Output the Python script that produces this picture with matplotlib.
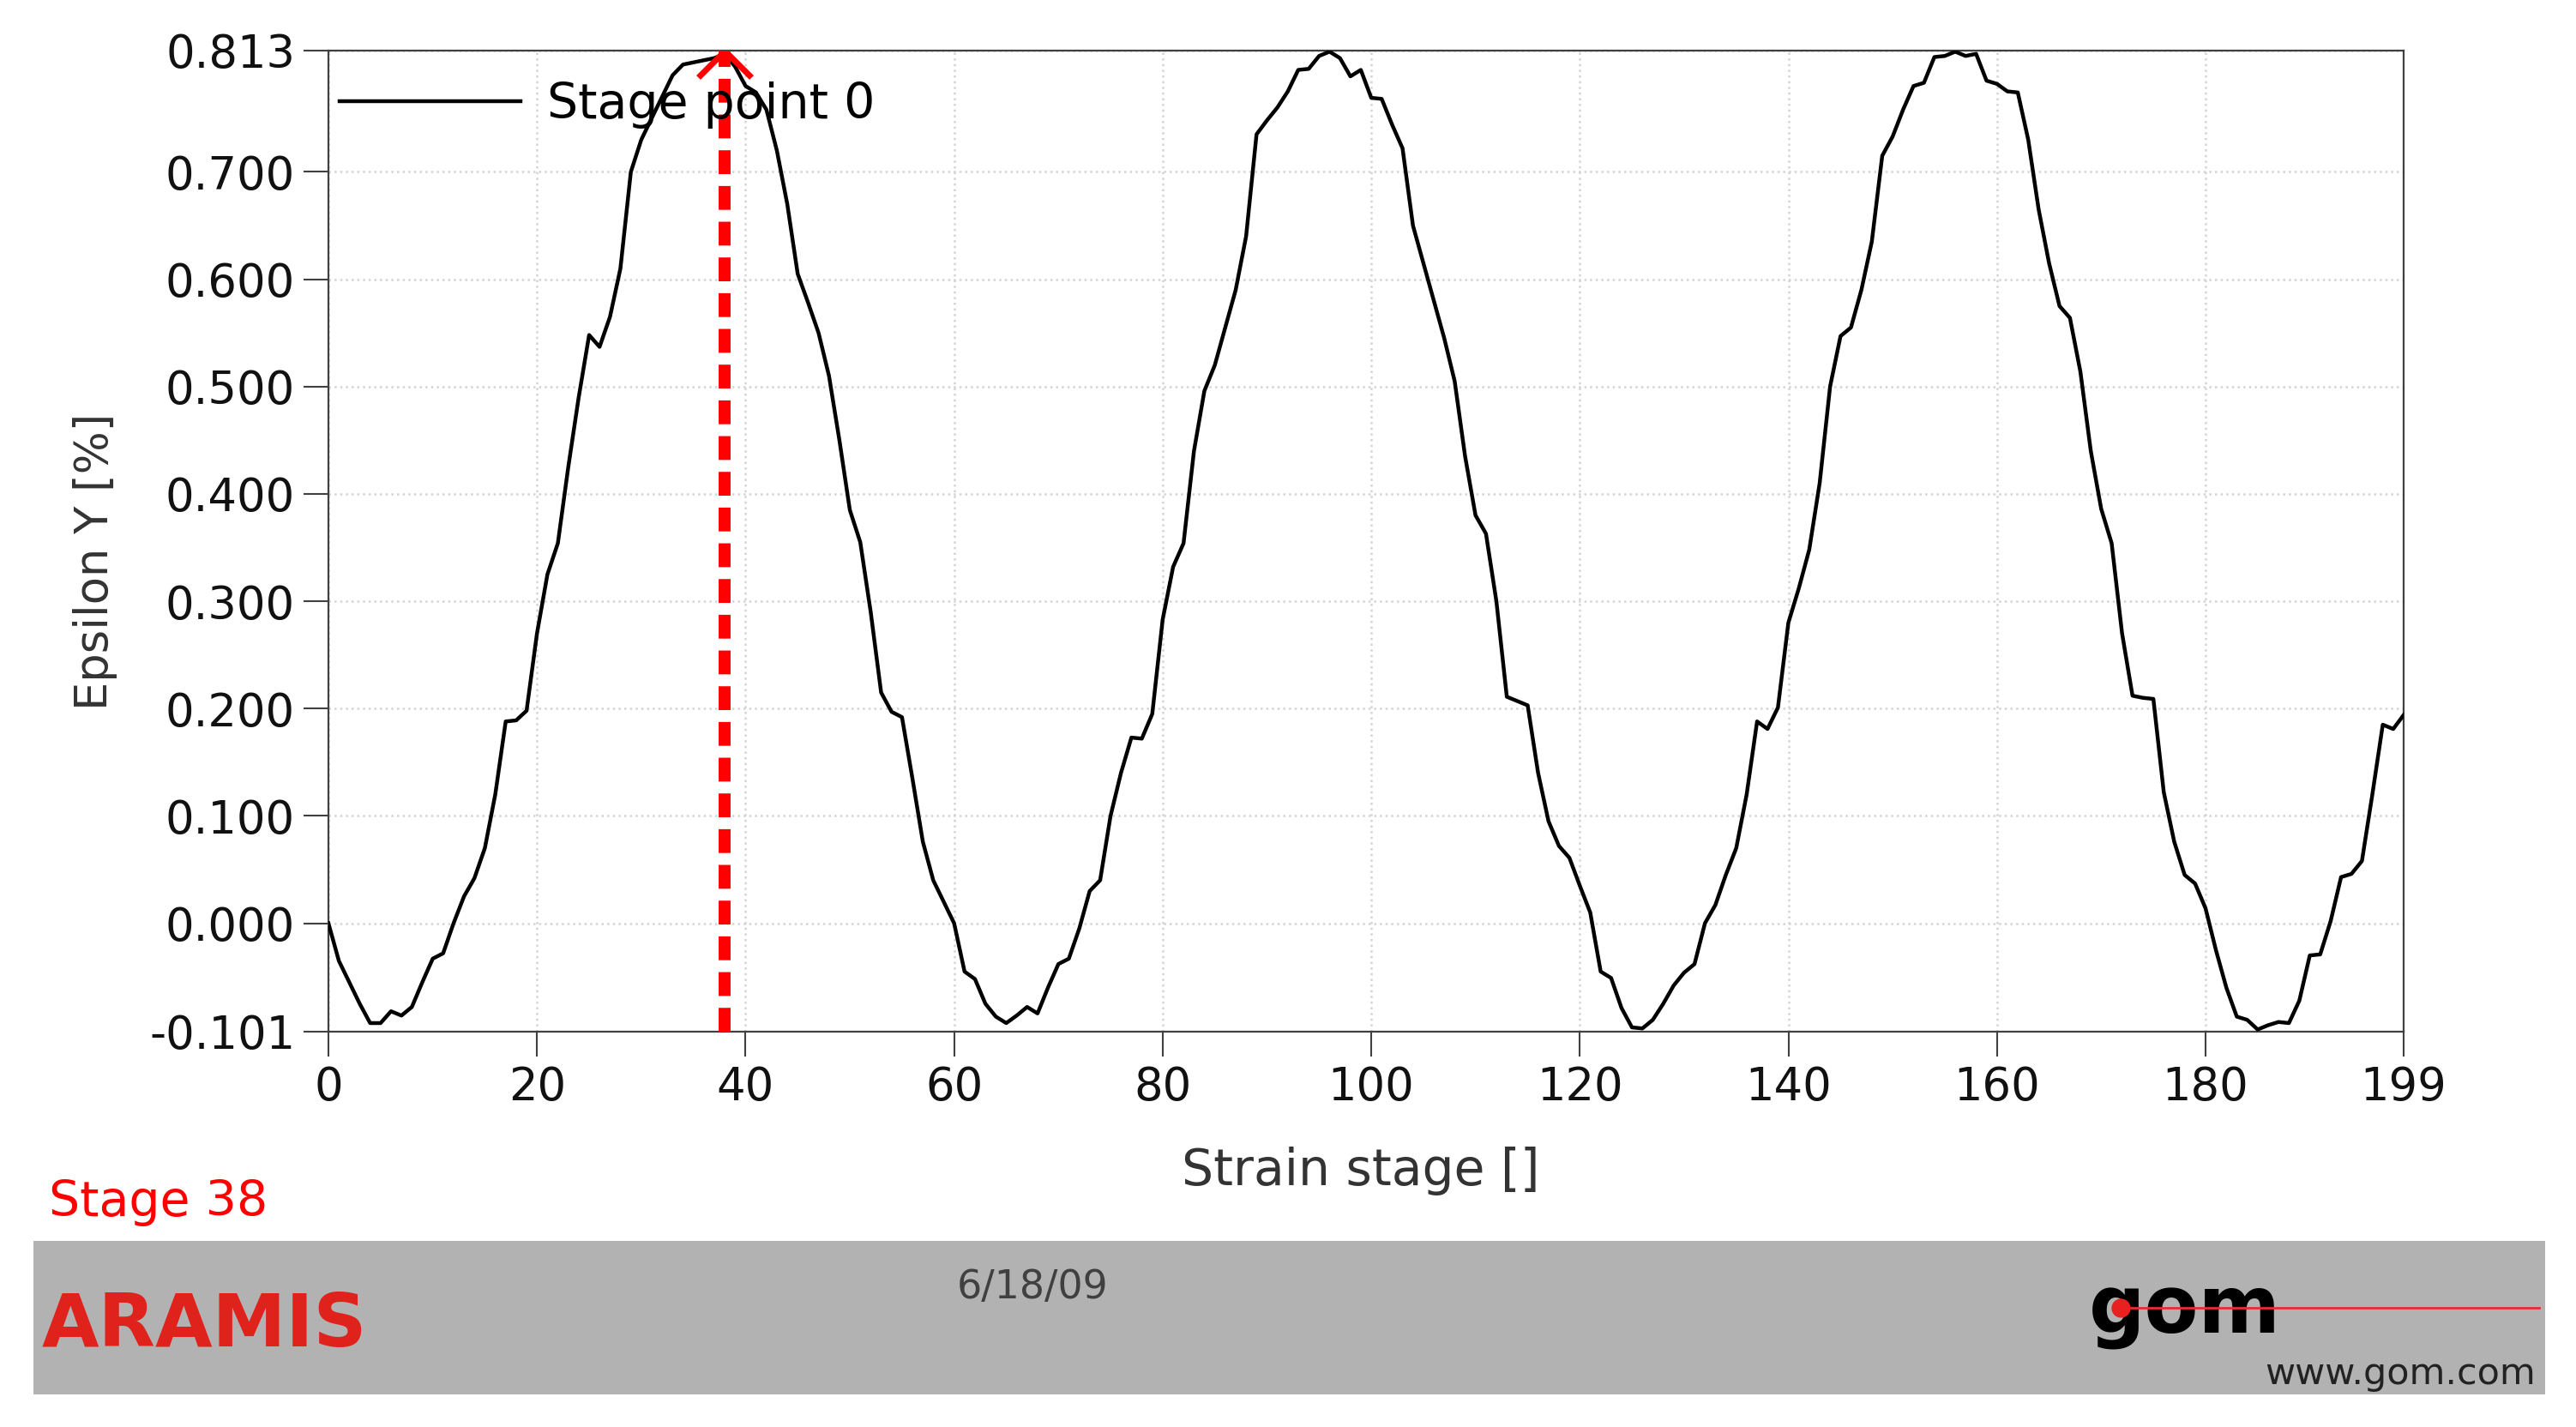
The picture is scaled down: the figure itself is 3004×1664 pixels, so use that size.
import numpy as np
import matplotlib
matplotlib.use('Agg')
import matplotlib.pyplot as plt
from matplotlib.patches import Rectangle
from matplotlib.lines import Line2D

# Epsilon Y [%] per strain stage
stages = np.arange(200)
epsilon_y = [
    0.000, -0.035, -0.055, -0.075, -0.093, -0.093, -0.082, -0.086, -0.078, -0.055,
    -0.033, -0.028, 0.000, 0.025, 0.042, 0.070, 0.120, 0.188, 0.189, 0.198,
    0.270, 0.325, 0.354, 0.425, 0.490, 0.548, 0.537, 0.565, 0.610, 0.700,
    0.730, 0.750, 0.770, 0.790, 0.800, 0.802, 0.804, 0.806, 0.810, 0.798,
    0.780, 0.774, 0.758, 0.720, 0.670, 0.605, 0.578, 0.550, 0.510, 0.450,
    0.385, 0.355, 0.290, 0.215, 0.197, 0.192, 0.135, 0.076, 0.040, 0.020,
    0.000, -0.045, -0.052, -0.075, -0.087, -0.093, -0.086, -0.078, -0.084, -0.060,
    -0.038, -0.033, -0.005, 0.030, 0.040, 0.100, 0.140, 0.173, 0.172, 0.195,
    0.283, 0.332, 0.354, 0.440, 0.496, 0.520, 0.555, 0.590, 0.640, 0.735,
    0.748, 0.760, 0.775, 0.795, 0.796, 0.808, 0.812, 0.806, 0.789, 0.795,
    0.769, 0.768, 0.744, 0.722, 0.650, 0.615, 0.580, 0.545, 0.505, 0.435,
    0.380, 0.363, 0.300, 0.211, 0.207, 0.203, 0.140, 0.095, 0.072, 0.061,
    0.035, 0.010, -0.045, -0.051, -0.079, -0.097, -0.098, -0.090, -0.075, -0.058,
    -0.046, -0.038, 0.000, 0.017, 0.045, 0.070, 0.120, 0.188, 0.181, 0.201,
    0.280, 0.312, 0.348, 0.410, 0.500, 0.547, 0.555, 0.590, 0.635, 0.715,
    0.733, 0.758, 0.780, 0.783, 0.807, 0.808, 0.812, 0.808, 0.810, 0.785,
    0.782, 0.775, 0.774, 0.730, 0.665, 0.615, 0.575, 0.564, 0.514, 0.440,
    0.386, 0.354, 0.270, 0.212, 0.210, 0.209, 0.122, 0.076, 0.045, 0.037,
    0.014, -0.025, -0.060, -0.087, -0.090, -0.099, -0.095, -0.092, -0.093, -0.072,
    -0.030, -0.029, 0.002, 0.043, 0.046, 0.058, 0.120, 0.185, 0.181, 0.194,
]

y_min, y_max = -0.101, 0.813
y_ticks = [-0.101, 0.0, 0.1, 0.2, 0.3, 0.4, 0.5, 0.6, 0.7, 0.813]
x_ticks = [0, 20, 40, 60, 80, 100, 120, 140, 160, 180, 199]
current_stage = 38

W, H = 3004, 1664


def fx(px):
    return px / W


def fy(py):
    return 1 - py / H


fig = plt.figure(figsize=(W / 100, H / 100), dpi=100)
ax = fig.add_axes([fx(383), fy(1203), fx(2803) - fx(383), fy(59) - fy(1203)])

ax.plot(stages, epsilon_y, color='black', lw=3.2, label='Stage point 0', zorder=3)

# current stage marker
ax.axvline(current_stage, color='red', lw=10, linestyle=(0, (2, 1)), zorder=4)
ax.plot(current_stage, y_max, marker='x', ms=44, mew=5, color='red', zorder=5, clip_on=True)

ax.set_xlim(0, 199)
ax.set_ylim(y_min, y_max)
ax.set_xticks(x_ticks)
ax.set_yticks(y_ticks)
ax.set_yticklabels(['%.3f' % v for v in y_ticks])
ax.tick_params(direction='out', length=21, width=1.5, pad=7, labelsize=38,
               colors='#404040', labelcolor='#111111')
ax.grid(True, color='#d4d4d4', linestyle=':', lw=1.8)
for sp in ax.spines.values():
    sp.set_color('#404040')
    sp.set_linewidth(1.6)

ax.set_ylabel('Epsilon Y [%]', fontsize=38, color='#333333', va='center')
ax.yaxis.set_label_coords((111 - 383) / 2420, (1203 - 655) / 1144)
ax.set_xlabel('Strain stage []', fontsize=42, color='#333333', va='center')
ax.xaxis.set_label_coords((1587 - 383) / 2420, (1203 - 1366) / 1144)

ax.legend(loc='center left', bbox_to_anchor=(fx(396), fy(122)), bbox_transform=fig.transFigure,
          frameon=False, fontsize=41, handlelength=3.7, handletextpad=0.55, borderpad=0,
          borderaxespad=0)

fig.text(fx(57), fy(1403), 'Stage 38', color='red', fontsize=41, va='center', ha='left')

# footer banner
fig.patches.append(Rectangle((fx(39), fy(1626)), fx(2968) - fx(39), fy(1447) - fy(1626),
                             transform=fig.transFigure, facecolor='#b2b2b2', edgecolor='none', zorder=0))
fig.text(fx(49), fy(1570), 'ARAMIS', color='#e0221c', fontsize=62, weight='bold', ha='left', va='baseline')
fig.text(fx(1204), fy(1502), '6/18/09', color='#404040', fontsize=33, ha='center', va='center')
fig.text(fx(2436), fy(1555), 'gom', color='black', fontsize=66, weight='bold', ha='left', va='baseline',
         zorder=2)
fig.lines.append(Line2D([fx(2473), fx(2961)], [fy(1525), fy(1525)], transform=fig.transFigure,
                        color='#e03030', lw=2, zorder=3))
fig.lines.append(Line2D([fx(2473)], [fy(1525)], transform=fig.transFigure, marker='o', ms=15,
                        color='#e82020', mec='#e82020', zorder=4))
fig.text(fx(2641), fy(1614), 'www.gom.com', color='#222222', fontsize=31, ha='left', va='baseline')

fig.savefig('out.png', dpi=100)
